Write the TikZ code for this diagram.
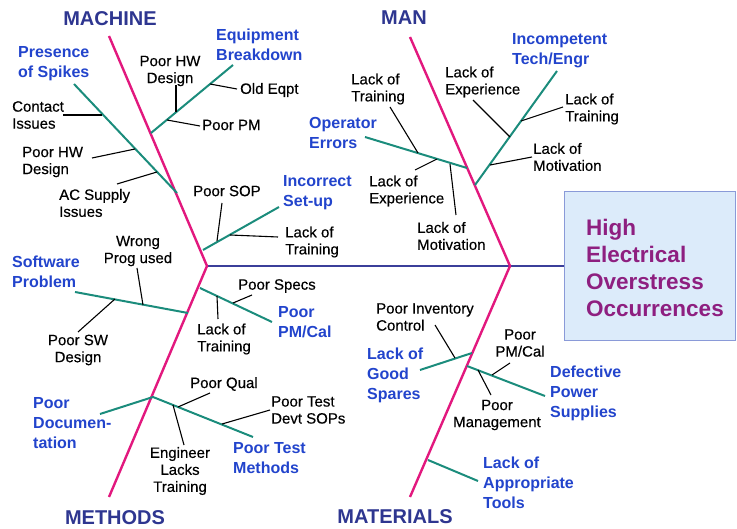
\documentclass[tikz,border=0pt]{standalone}
\usepackage{fontspec}
\setmainfont{Liberation Sans}
\newfontface\causefont{Liberation Sans}[FakeBold=0.35]
\definecolor{boneP}{HTML}{E2187E}
\definecolor{ribT}{HTML}{1B8C7C}
\definecolor{labB}{HTML}{2244CC}
\definecolor{catN}{HTML}{2E3690}
\definecolor{spineB}{HTML}{3B3F9A}
\definecolor{boxF}{HTML}{DCEBFA}
\definecolor{boxD}{HTML}{8A9AD8}
\definecolor{boxT}{HTML}{8E1F80}
\begin{document}
\begin{tikzpicture}[x=1pt,y=-1pt,
  bone/.style={draw=boneP,line width=2.4pt,line join=miter},
  spine/.style={draw=spineB,line width=2.4pt},
  rib/.style={draw=ribT,line width=2pt},
  twig/.style={draw=black,line width=1.1pt},
  cause/.style={font=\causefont\fontsize{15}{17}\selectfont,text=black,inner sep=0pt,align=left,anchor=west},
  causec/.style={cause,align=center,anchor=center},
  rlabel/.style={font=\bfseries\fontsize{16}{20}\selectfont,text=labB,inner sep=0pt,align=left,anchor=west},
  cat/.style={font=\bfseries\fontsize{20}{24}\selectfont,text=catN,inner sep=0pt},
  effbox/.style={draw=boxD,fill=boxF,line width=1pt,anchor=north west,minimum width=171pt,minimum height=149pt,inner sep=0pt},
  efftext/.style={font=\bfseries\fontsize{22.5}{27.3}\selectfont,text=boxT,inner sep=0pt,align=left,anchor=west}]
\useasboundingbox (0,0) rectangle (737,529);
% effect
\node[effbox] (box) at (564,191) {};
\node[efftext] (efft) at (586,268) {High\\Electrical\\Overstress\\Occurrences};
% spine and bones
\coordinate (A) at (207,266);
\coordinate (B) at (510,266);
\coordinate (mach0) at (109,36);
\coordinate (meth0) at (109,497);
\coordinate (man0) at (410,37);
\coordinate (mat0) at (410,497);
\draw[spine] (A) -- (box.west);
\draw[bone] (mach0) -- (A) -- (meth0);
\draw[bone] (man0) -- (B) -- (mat0);
% categories
\node[cat] (cmach) at (110,19) {MACHINE};
\node[cat] (cman) at (404,18) {MAN};
\node[cat] (cmeth) at (115,518) {METHODS};
\node[cat] (cmat) at (395,517) {MATERIALS};
% ===== MACHINE =====
\coordinate (rPs) at (74,84); \coordinate (rPe) at (177,193);
\coordinate (rEs) at (151,133); \coordinate (rEe) at (233,65);
\coordinate (rIs) at (203,250); \coordinate (rIe) at (279,207);
\draw[rib] (rPs) -- (rPe);
\draw[rib] (rEs) -- (rEe);
\draw[rib] (rIs) -- (rIe);
\node[rlabel] (lPres) at (18,64) {Presence\\of Spikes};
\node[rlabel] (lEqp) at (216,45) {Equipment\\Breakdown};
\node[rlabel] (lInc) at (283,193) {Incorrect\\Set-up};
\node[cause] (tContact) at (12,115) {Contact\\Issues};
\node[cause] (tHWl) at (22,162) {Poor HW\\Design};
\node[cause] (tAC) at (59,203) {AC Supply\\Issues};
\node[causec] (tHWt) at (170,71) {Poor HW\\Design};
\node[cause] (tOld) at (240,90) {Old Eqpt};
\node[cause] (tPM) at (202,125) {Poor PM};
\node[cause] (tSOP) at (193,191) {Poor SOP};
\node[cause] (tLTi) at (285,242) {Lack of\\Training};
\coordinate (a1) at (63,115); \coordinate (b1) at (102,115);
\coordinate (a2) at (92,158); \coordinate (b2) at (135,149);
\coordinate (a3) at (117,184); \coordinate (b3) at (157,172);
\coordinate (a4) at (176,85); \coordinate (b4) at (176,112);
\coordinate (a5) at (200,126); \coordinate (b5) at (167,120);
\coordinate (a6) at (237,89); \coordinate (b6) at (210,84);
\coordinate (a7) at (222,203); \coordinate (b7) at (217,241);
\coordinate (a8) at (278,237); \coordinate (b8) at (230,235);
\draw[twig] (a1) -- (b1);
\draw[twig] (a2) -- (b2);
\draw[twig] (a3) -- (b3);
\draw[twig] (a4) -- (b4);
\draw[twig] (a5) -- (b5);
\draw[twig] (a6) -- (b6);
\draw[twig] (a7) -- (b7);
\draw[twig] (a8) -- (b8);
% ===== MAN =====
\coordinate (rOs) at (365,137); \coordinate (rOe) at (467,168);
\coordinate (rTs) at (475,185); \coordinate (rTe) at (557,71);
\draw[rib] (rOs) -- (rOe);
\draw[rib] (rTs) -- (rTe);
\node[rlabel] (lOp) at (309,133) {Operator\\Errors};
\node[rlabel] (lIncomp) at (512,51) {Incompetent\\Tech/Engr};
\node[cause] (tLT1) at (351,89) {Lack of\\Training};
\node[cause] (tLE1) at (445,82) {Lack of\\Experience};
\node[cause] (tLT2) at (565,109) {Lack of\\Training};
\node[cause] (tLM1) at (533,157) {Lack of\\Motivation};
\node[cause] (tLE2) at (369,191) {Lack of\\Experience};
\node[cause] (tLM2) at (417,236) {Lack of\\Motivation};
\coordinate (a9) at (390,107); \coordinate (b9) at (418,153);
\coordinate (a10) at (415,170); \coordinate (b10) at (437,159);
\coordinate (a11) at (456,215); \coordinate (b11) at (450,164);
\coordinate (a12) at (473,100); \coordinate (b12) at (510,137);
\coordinate (a13) at (563,107); \coordinate (b13) at (521,121);
\coordinate (a14) at (532,157); \coordinate (b14) at (490,165);
\draw[twig] (a9) -- (b9);
\draw[twig] (a10) -- (b10);
\draw[twig] (a11) -- (b11);
\draw[twig] (a12) -- (b12);
\draw[twig] (a13) -- (b13);
\draw[twig] (a14) -- (b14);
% ===== METHODS =====
\coordinate (rSs) at (75,292); \coordinate (rSe) at (188,313);
\coordinate (rCs) at (200,288); \coordinate (rCe) at (272,322);
\coordinate (rDs) at (100,414); \coordinate (rDe) at (153,397);
\coordinate (rMe) at (253,437);
\draw[rib] (rSs) -- (rSe);
\draw[rib] (rCs) -- (rCe);
\draw[rib] (rDs) -- (rDe) -- (rMe);
\node[rlabel] (lSW) at (12,272) {Software\\Problem};
\node[rlabel] (lPMC) at (278,322) {Poor\\PM/Cal};
\node[rlabel] (lDoc) at (33,423) {Poor\\Documen-\\tation};
\node[rlabel] (lTest) at (233,458) {Poor Test\\Methods};
\node[causec] (tWrong) at (138,251) {Wrong\\Prog used};
\node[causec] (tSWd) at (78,350) {Poor SW\\Design};
\node[cause] (tSpecs) at (238,286) {Poor Specs};
\node[cause] (tLT3) at (197,339) {Lack of\\Training};
\node[cause] (tQual) at (190,384) {Poor Qual};
\node[cause] (tDevt) at (271,410) {Poor Test\\Devt SOPs};
\node[causec] (tEng) at (180,471) {Engineer\\Lacks\\Training};
\coordinate (a15) at (137,268); \coordinate (b15) at (143,305);
\coordinate (a16) at (78,332); \coordinate (b16) at (115,299);
\coordinate (a17) at (252,295); \coordinate (b17) at (233,303);
\coordinate (a18) at (218,319); \coordinate (b18) at (217,296);
\coordinate (a19) at (210,393); \coordinate (b19) at (178,407);
\coordinate (a20) at (270,410); \coordinate (b20) at (222,424);
\coordinate (a21) at (184,445); \coordinate (b21) at (173,405);
\draw[twig] (a15) -- (b15);
\draw[twig] (a16) -- (b16);
\draw[twig] (a17) -- (b17);
\draw[twig] (a18) -- (b18);
\draw[twig] (a19) -- (b19);
\draw[twig] (a20) -- (b20);
\draw[twig] (a21) -- (b21);
% ===== MATERIALS =====
\coordinate (rGs) at (420,370); \coordinate (rGe) at (472,353);
\coordinate (rVs) at (467,366); \coordinate (rVe) at (545,396);
\coordinate (rAs) at (428,460); \coordinate (rAe) at (478,481);
\draw[rib] (rGs) -- (rGe);
\draw[rib] (rVs) -- (rVe);
\draw[rib] (rAs) -- (rAe);
\node[rlabel] (lSpares) at (367,375) {Lack of\\Good\\Spares};
\node[rlabel] (lDef) at (550,393) {Defective\\Power\\Supplies};
\node[rlabel] (lTools) at (483,483) {Lack of\\Appropriate\\Tools};
\node[cause] (tInv) at (376,317) {Poor Inventory\\Control};
\node[causec] (tPMC2) at (520,343) {Poor\\PM/Cal};
\node[causec] (tMgmt) at (497,415) {Poor\\Management};
\coordinate (a22) at (435,325); \coordinate (b22) at (455,358);
\coordinate (a23) at (510,363); \coordinate (b23) at (492,375);
\coordinate (a24) at (491,395); \coordinate (b24) at (478,370);
\draw[twig] (a22) -- (b22);
\draw[twig] (a23) -- (b23);
\draw[twig] (a24) -- (b24);
\end{tikzpicture}
\end{document}
